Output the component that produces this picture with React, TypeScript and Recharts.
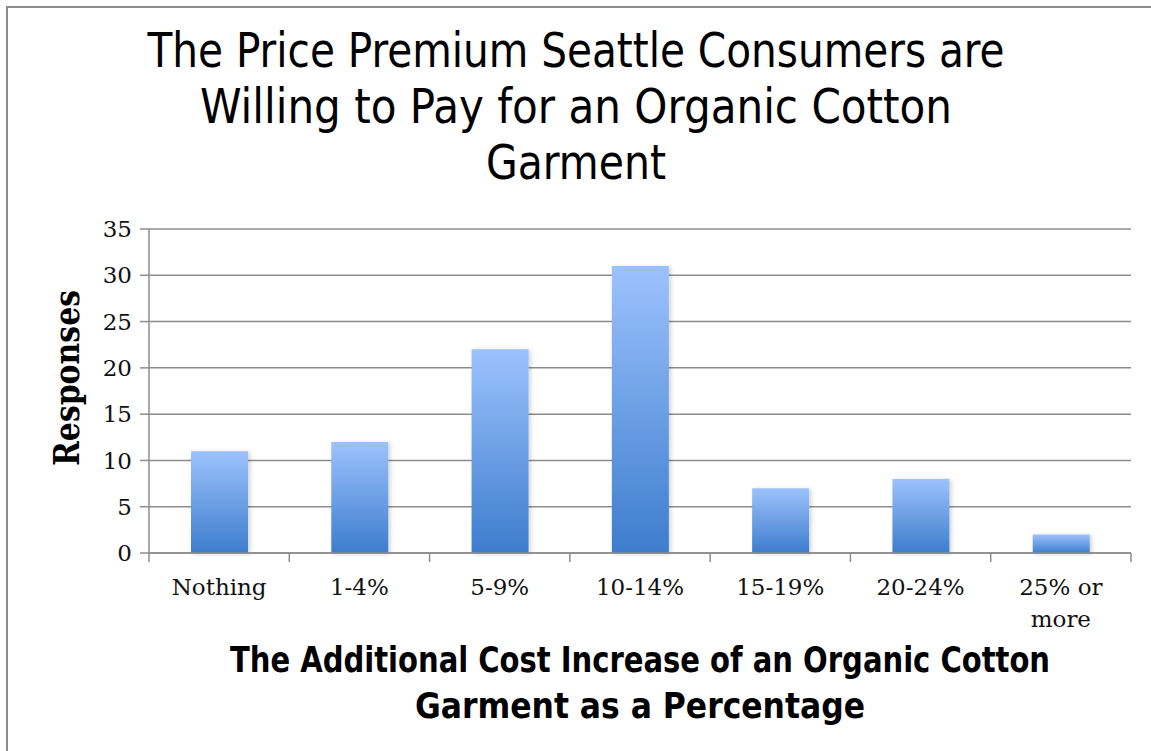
import { BarChart, Bar, XAxis, YAxis, CartesianGrid } from 'recharts';

const categories = ['Nothing', '1-4%', '5-9%', '10-14%', '15-19%', '20-24%', '25% or more'];
const responses = [11, 12, 22, 31, 7, 8, 2];
const yTicks = [0, 5, 10, 15, 20, 25, 30, 35];

const titleLines = ['The Price Premium Seattle Consumers are', 'Willing to Pay for an Organic Cotton', 'Garment'];
const xTitleLines = ['The Additional Cost Increase of an Organic Cotton', 'Garment as a Percentage'];
const yTitle = 'Responses';

const data = categories.map((name, i) => ({ name, value: responses[i] }));

const W = 1151;
const H = 751;
const GRAY = '#8c8c8c';
const SERIF = '"DejaVu Serif", "Liberation Serif", serif';
const NARROW = '"Liberation Sans Narrow", "DejaVu Sans Condensed", "Liberation Sans", sans-serif';

// wrap label words into lines of at most ~8 chars
function wrap(label: string): string[] {
  const words = label.split(' ');
  const lines: string[] = [];
  let cur = '';
  for (const w of words) {
    const next = cur ? cur + ' ' + w : w;
    if (cur && next.length > 8) {
      lines.push(cur);
      cur = w;
    } else {
      cur = next;
    }
  }
  if (cur) lines.push(cur);
  return lines;
}

function CategoryTick(props: any) {
  const { x, y, payload, index, visibleTicksCount } = props;
  const half = payload && payload.offset ? payload.offset : 70.15;
  const lines = wrap(String(payload.value));
  const last = index === visibleTicksCount - 1;
  return (
    <g>
      <line x1={x - half} x2={x - half} y1={y} y2={y + 9} stroke={GRAY} strokeWidth={1.5} />
      {last && <line x1={x + half} x2={x + half} y1={y} y2={y + 9} stroke={GRAY} strokeWidth={1.5} />}
      <text x={x} y={y + 42} textAnchor="middle" fontFamily={SERIF} fontSize={23} fill="#111">
        {lines.map((l, i) => (
          <tspan key={i} x={x} dy={i === 0 ? 0 : 32}>
            {l}
          </tspan>
        ))}
      </text>
    </g>
  );
}

export default function App() {
  return (
    <div style={{ position: 'absolute', left: 0, top: 0, width: W, height: H, background: '#fff' }}>
      <BarChart
        width={W}
        height={H}
        data={data}
        margin={{ top: 229, right: 20, left: 60, bottom: 138 }}
        barCategoryGap={0}
      >
        <defs>
          <linearGradient id="barFill" x1="0" y1="0" x2="0" y2="1">
            <stop offset="0%" stopColor="#9cc2fd" />
            <stop offset="100%" stopColor="#3d7dcd" />
          </linearGradient>
          <filter id="barShadow" x="-20%" y="-20%" width="140%" height="140%">
            <feDropShadow dx="2" dy="1" stdDeviation="2" floodColor="#000" floodOpacity="0.18" />
          </filter>
        </defs>
        <CartesianGrid vertical={false} stroke={GRAY} strokeWidth={1.5} />
        <XAxis
          dataKey="name"
          height={60}
          axisLine={{ stroke: GRAY, strokeWidth: 1.5 }}
          tickLine={false}
          tickSize={0}
          tickMargin={0}
          interval={0}
          tick={<CategoryTick />}
        />
        <YAxis
          width={89}
          domain={[0, 35]}
          ticks={yTicks}
          interval={0}
          axisLine={{ stroke: GRAY, strokeWidth: 1.5 }}
          tickLine={{ stroke: GRAY, strokeWidth: 1.5 }}
          tickSize={9}
          tickMargin={8}
          tick={{ fontFamily: SERIF, fontSize: 23, fill: '#111' }}
        />
        <Bar
          dataKey="value"
          barSize={57}
          fill="url(#barFill)"
          filter="url(#barShadow)"
          isAnimationActive={false}
        />
      </BarChart>
      <svg
        width={W}
        height={H}
        style={{ position: 'absolute', left: 0, top: 0, pointerEvents: 'none' }}
      >
        <path d={`M7 ${H} L7 7 L${W} 7`} fill="none" stroke={GRAY} strokeWidth={2} />
        {titleLines.map((t, i) => (
          <text
            key={t}
            x={576}
            y={67 + i * 56}
            textAnchor="middle"
            fontFamily={NARROW}
            fontSize={48}
            fill="#000"
            textLength={[857, 752, 180][i]}
            lengthAdjust="spacingAndGlyphs"
          >
            {t}
          </text>
        ))}
        <text
          transform="translate(79 378) rotate(-90)"
          textAnchor="middle"
          fontFamily={SERIF}
          fontWeight="bold"
          fontSize={36}
          fill="#000"
          textLength={176}
          lengthAdjust="spacingAndGlyphs"
        >
          {yTitle}
        </text>
        {xTitleLines.map((t, i) => (
          <text
            key={t}
            x={640}
            y={672 + i * 46}
            textAnchor="middle"
            fontFamily={NARROW}
            fontWeight="bold"
            fontSize={35}
            fill="#000"
            textLength={[820, 450][i]}
            lengthAdjust="spacingAndGlyphs"
          >
            {t}
          </text>
        ))}
      </svg>
    </div>
  );
}
